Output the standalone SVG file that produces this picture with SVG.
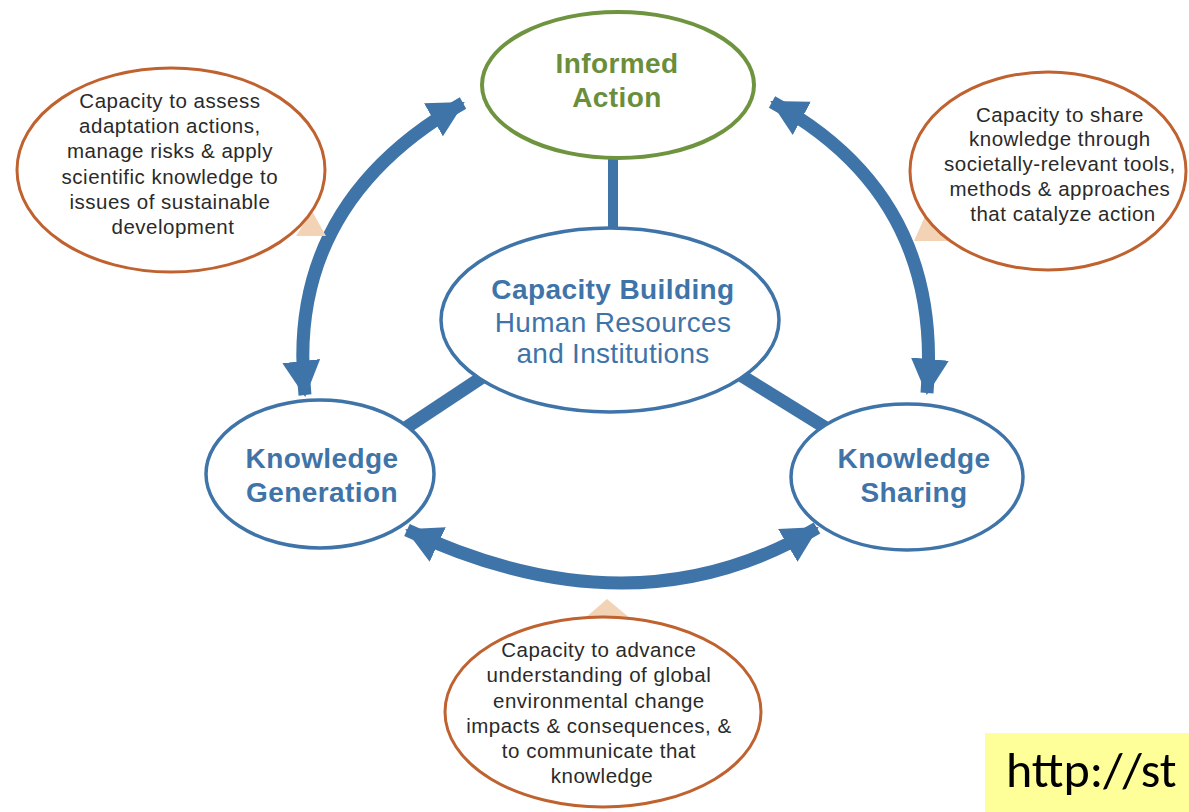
<svg xmlns="http://www.w3.org/2000/svg" width="1189" height="812" viewBox="0 0 1189 812">
<defs>
<marker id="ah" markerUnits="userSpaceOnUse" viewBox="0 0 36 38" refX="34" refY="19" markerWidth="36" markerHeight="38" orient="auto-start-reverse">
<path d="M0,0 L36,19 L0,38 Z" fill="#3f74a9"/>
</marker>
<style>
.bg{fill:#ffffff}
.conn{fill:none;stroke:#3f74a9;stroke-width:13}
.arc{fill:none;stroke:#3f74a9;stroke-width:13;marker-start:url(#ah);marker-end:url(#ah)}
.node{fill:#ffffff;stroke:#3f74a9;stroke-width:3.5}
.green{fill:#ffffff;stroke:#6f9440;stroke-width:4}
.call{fill:#ffffff;stroke:#c0622f;stroke-width:3}
.tail{fill:#f3d3b5}
.t{font-family:"Liberation Sans",Arial,sans-serif;text-anchor:middle}
.nb{font-size:28px;font-weight:bold;fill:#3f74a9;letter-spacing:0.4px}
.nr{font-size:28px;fill:#3f74a9;letter-spacing:0.3px}
.gb{font-size:28px;font-weight:bold;fill:#6b8e3a;letter-spacing:0.4px}
.ct{font-size:20.5px;fill:#2a2a2a;letter-spacing:0.5px}
.url{font-family:Carlito,"Liberation Sans",sans-serif;font-size:50px;fill:#000000}
</style>
</defs>
<rect class="bg" x="0" y="0" width="1189" height="812"/>

<g id="connectors">
<line class="conn" x1="613" y1="150" x2="613" y2="232" style="stroke-width:10"/>
<line class="conn" x1="484" y1="376" x2="404" y2="429"/>
<line class="conn" x1="742" y1="376" x2="826" y2="428"/>
<path class="arc" d="M305,395 Q284,205 463,103"/>
<path class="arc" d="M772,102 Q944,196 927,393"/>
<path class="arc" d="M407,530 Q634,637 817,528"/>
</g>

<g id="callout-assess">
<polygon class="tail" points="296,236 312,211 326,236"/>
<ellipse class="call" cx="171" cy="170" rx="154" ry="102"/>
<text class="t ct">
<tspan x="173" y="108">Capacity to assess</tspan>
<tspan x="173" y="133">adaptation actions,</tspan>
<tspan x="173" y="158">manage risks &amp; apply</tspan>
<tspan x="173" y="184">scientific knowledge to</tspan>
<tspan x="173" y="209">issues of sustainable</tspan>
<tspan x="173" y="234">development</tspan>
</text>
</g>

<g id="callout-share">
<polygon class="tail" points="914,241 926,214 952,241"/>
<ellipse class="call" cx="1048" cy="171" rx="138" ry="99"/>
<text class="t ct">
<tspan x="1063" y="122">Capacity to share</tspan>
<tspan x="1063" y="146">knowledge through</tspan>
<tspan x="1063" y="171">societally-relevant tools,</tspan>
<tspan x="1063" y="196">methods &amp; approaches</tspan>
<tspan x="1063" y="221">that catalyze action</tspan>
</text>
</g>

<g id="callout-advance">
<polygon class="tail" points="584,619 607,599 631,619"/>
<ellipse class="call" cx="603" cy="712" rx="158" ry="95"/>
<text class="t ct">
<tspan x="602" y="657">Capacity to advance</tspan>
<tspan x="602" y="682">understanding of global</tspan>
<tspan x="602" y="708">environmental change</tspan>
<tspan x="602" y="733">impacts &amp; consequences, &amp;</tspan>
<tspan x="602" y="758">to communicate that</tspan>
<tspan x="602" y="783">knowledge</tspan>
</text>
</g>

<g id="node-informed-action">
<ellipse class="green" cx="618" cy="85" rx="136" ry="73"/>
<text class="t gb"><tspan x="617" y="73">Informed</tspan><tspan x="617" y="107">Action</tspan></text>
</g>

<g id="node-capacity-building">
<ellipse class="node" cx="610" cy="320" rx="169" ry="92"/>
<text class="t"><tspan class="nb" x="613" y="299">Capacity Building</tspan><tspan class="nr" x="613" y="332">Human Resources</tspan><tspan class="nr" x="613" y="363">and Institutions</tspan></text>
</g>

<g id="node-knowledge-generation">
<ellipse class="node" cx="320" cy="474" rx="114" ry="74"/>
<text class="t nb"><tspan x="322" y="468">Knowledge</tspan><tspan x="322" y="502">Generation</tspan></text>
</g>

<g id="node-knowledge-sharing">
<ellipse class="node" cx="907" cy="477" rx="116" ry="73"/>
<text class="t nb"><tspan x="914" y="468">Knowledge</tspan><tspan x="914" y="502">Sharing</tspan></text>
</g>

<g id="url-label">
<rect x="985" y="733" width="204" height="79" fill="#ffff99"/>
<text class="url" x="1006" y="787">http://st</text>
</g>
</svg>
